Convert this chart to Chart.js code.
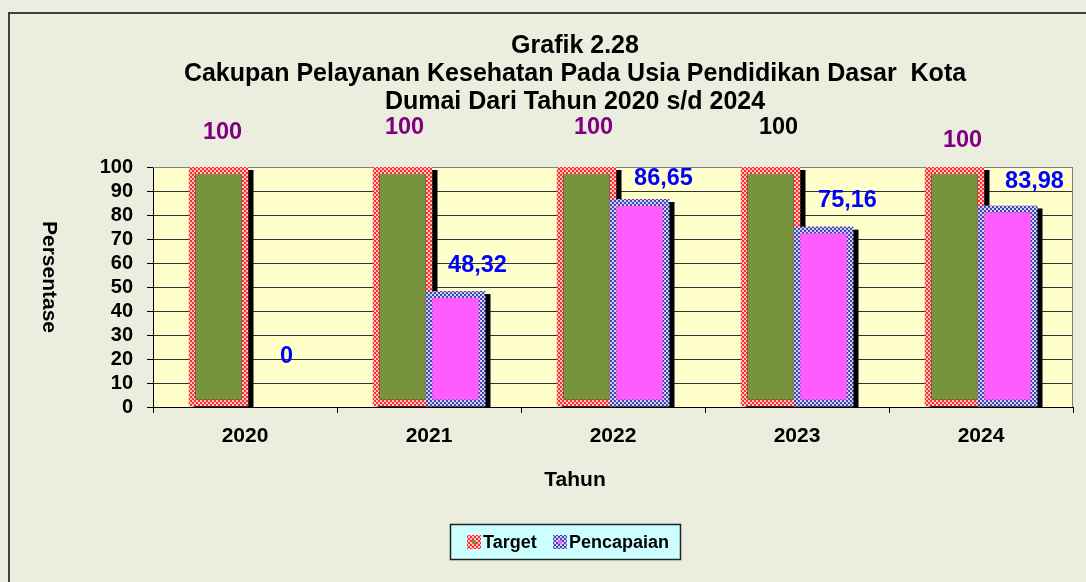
<!DOCTYPE html>
<html>
<head>
<meta charset="utf-8">
<script src="https://cdn.jsdelivr.net/npm/chart.js@4.4.1/dist/chart.umd.min.js"></script>
<style>
  html, body { margin: 0; padding: 0; background: #EBEEDF; }
  canvas { display: block; }
</style>
</head>
<body>
<canvas id="chart" width="1086" height="582"></canvas>
<script>
// data
var years = ['2020', '2021', '2022', '2023', '2024'];
var targetValues = [100, 100, 100, 100, 100];
var capaianValues = [0, 48.32, 86.65, 75.16, 83.98];

// label placement (pixels, relative to the bar top)
var targetLabelShift = [[4, -34], [2, -39], [7, -39], [8, -39], [8, -26]];
var targetLabelColors = ['#800080', '#800080', '#800080', '#000000', '#800080'];
var capaianLabelShift = [[15, -50], [22, -26], [24, -21], [24, -26], [27, -24]];

var FONT = '"Liberation Sans", Arial, sans-serif';

function checker(c1, c2) {
    var p = document.createElement('canvas');
    p.width = 4; p.height = 4;
    var g = p.getContext('2d');
    g.fillStyle = c1; g.fillRect(0, 0, 4, 4);
    g.fillStyle = c2; g.fillRect(0, 0, 2, 2); g.fillRect(2, 2, 2, 2);
    return document.getElementById('chart').getContext('2d').createPattern(p, 'repeat');
}
var redPattern = checker('#FF2E2E', '#FFC4C4');
var bluePattern = checker('#4646A8', '#CFCFFF');

function fmt(v) {
    if (v === Math.round(v)) return String(v);
    return v.toFixed(2).replace('.', ',');
}

var decorPlugin = {
    id: 'decor',
    beforeDraw: function (chart) {
        var c = chart.ctx, a = chart.chartArea;
        c.save();
        c.fillStyle = '#EBEEDF';
        c.fillRect(0, 0, chart.width, chart.height);
        c.fillStyle = '#404040';
        c.fillRect(8, 12, chart.width - 8, 2);
        c.fillRect(8, 12, 2, chart.height - 12);
        c.fillStyle = '#FFFFCC';
        c.fillRect(a.left, a.top, a.right - a.left, a.bottom - a.top);
        c.restore();
    },
    beforeDatasetsDraw: function (chart) {
        var c = chart.ctx, a = chart.chartArea;
        c.save();
        c.strokeStyle = '#808080';
        c.lineWidth = 1;
        c.beginPath();
        c.moveTo(a.left, a.top + 0.5);
        c.lineTo(a.right - 0.5, a.top + 0.5);
        c.lineTo(a.right - 0.5, a.bottom);
        c.stroke();
        // shadows
        c.fillStyle = '#000';
        [0, 1].forEach(function (i) {
            chart.getDatasetMeta(i).data.forEach(function (bar) {
                var h = bar.base - bar.y;
                if (h <= 0) return;
                c.fillRect(bar.x - bar.width / 2 + 5, bar.y + 3, bar.width, h - 2);
            });
        });
        c.restore();
    },
    afterDatasetDraw: function (chart, args) {
        // Pencapaian bars overlap the Target bars
        if (args.index === 0) chart.getDatasetMeta(1).controller.draw();
    },
    afterDraw: function (chart) {
        var c = chart.ctx;
        c.save();
        c.textAlign = 'center';
        c.textBaseline = 'middle';
        c.fillStyle = '#000';
        c.font = 'bold 25px ' + FONT;
        c.fillText('Grafik 2.28', 575, 46);
        c.fillText('Cakupan Pelayanan Kesehatan Pada Usia Pendidikan Dasar  Kota', 575, 74);
        c.fillText('Dumai Dari Tahun 2020 s/d 2024', 575, 102);

        c.font = 'bold 21px ' + FONT;
        c.fillText('Tahun', 575, 480);
        c.save();
        c.translate(49, 277);
        c.rotate(Math.PI / 2);
        c.fillText('Persentase', 0, 0);
        c.restore();

        // value labels
        c.font = 'bold 23.5px ' + FONT;
        chart.getDatasetMeta(0).data.forEach(function (bar, i) {
            c.fillStyle = targetLabelColors[i];
            c.fillText(fmt(targetValues[i]), bar.x + targetLabelShift[i][0], bar.y + targetLabelShift[i][1]);
        });
        c.fillStyle = '#0000FF';
        chart.getDatasetMeta(1).data.forEach(function (bar, i) {
            c.fillText(fmt(capaianValues[i]), bar.x + capaianLabelShift[i][0], bar.y + capaianLabelShift[i][1]);
        });

        // legend
        var lx = 450, ly = 524, lw = 230, lh = 35;
        c.fillStyle = '#CCFFFF';
        c.fillRect(lx, ly, lw, lh);
        c.strokeStyle = '#222';
        c.lineWidth = 1.5;
        c.strokeRect(lx + 0.5, ly + 0.5, lw, lh);
        var items = [
            { text: 'Target', x: 467, border: redPattern, fill: '#77933C' },
            { text: 'Pencapaian', x: 553, border: bluePattern, fill: '#FF5CFF' }
        ];
        c.font = 'bold 18px ' + FONT;
        c.textAlign = 'left';
        items.forEach(function (it) {
            c.fillStyle = it.border;
            c.fillRect(it.x, 535, 14, 14);
            c.fillStyle = it.fill;
            c.fillRect(it.x + 5, 540, 4, 4);
            c.fillStyle = '#000';
            c.fillText(it.text, it.x + 16, 543);
        });
        c.restore();
    }
};

var ctx = document.getElementById('chart').getContext('2d');
var myChart = new Chart(ctx, {
    type: 'bar',
    data: {
        labels: years,
        datasets: [{
            label: 'Target',
            data: targetValues,
            backgroundColor: '#77933C',
            borderColor: redPattern,
            borderWidth: 7,
            borderSkipped: false,
            categoryPercentage: 0.576,
            barPercentage: 1.132
        },
        {
            label: 'Pencapaian',
            data: capaianValues,
            backgroundColor: '#FF5CFF',
            borderColor: bluePattern,
            borderWidth: 7,
            borderSkipped: false,
            categoryPercentage: 0.576,
            barPercentage: 1.132
        }]
    },
    options: {
        responsive: false,
        animation: false,
        events: [],
        layout: { padding: { left: 93, right: 13, top: 167, bottom: 135 } },
        plugins: {
            legend: { display: false },
            title: { display: false },
            tooltip: { enabled: false }
        },
        scales: {
            x: {
                afterFit: function (s) { s.height = 40; },
                grid: { offset: true, drawOnChartArea: false, drawTicks: true, tickLength: 6, tickColor: '#000' },
                border: { color: '#000', width: 1 },
                ticks: { color: '#000', padding: 11, font: { family: FONT, size: 21, weight: 'bold' } }
            },
            y: {
                min: 0,
                max: 100,
                afterFit: function (s) { s.width = 60; },
                grid: {
                    color: function (c) { return c.tick && c.tick.value === 100 ? '#808080' : '#333333'; },
                    tickLength: 6,
                    tickColor: '#000'
                },
                border: { color: '#000', width: 1 },
                ticks: { stepSize: 10, autoSkip: false, color: '#000', padding: 14, font: { family: FONT, size: 20, weight: 'bold' } }
            }
        }
    },
    plugins: [decorPlugin]
});
</script>
</body>
</html>
